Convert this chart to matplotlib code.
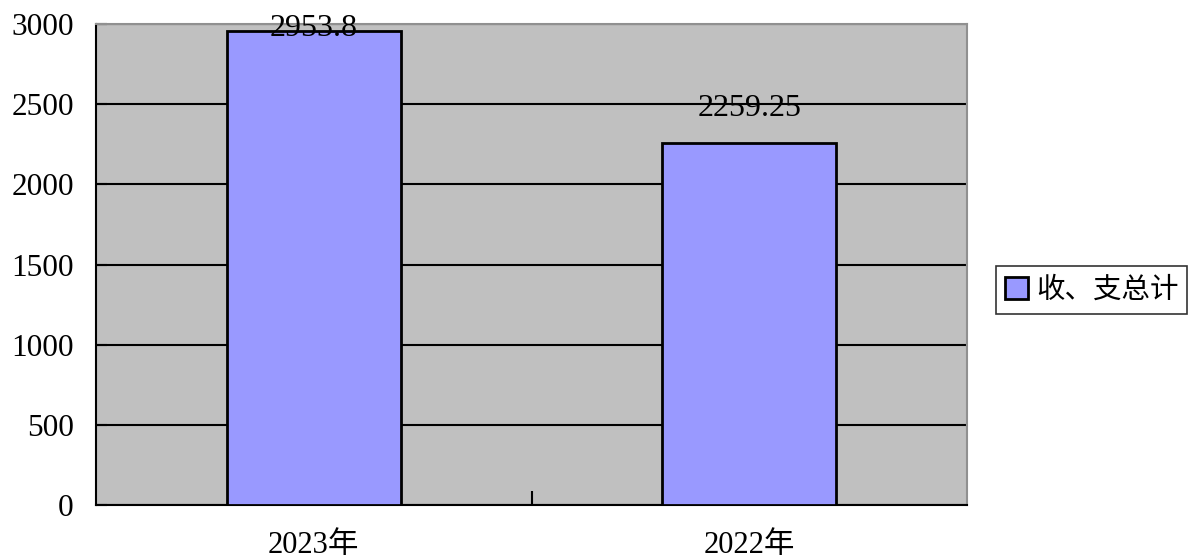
import numpy as np
import matplotlib.pyplot as plt

# data
categories = ['2023年', '2022年']
totals = [2953.8, 2259.25]
value_labels = ['2953.8', '2259.25']
series_name = '收、支总计'
y_ticks = [0, 500, 1000, 1500, 2000, 2500, 3000]

plt.rcParams['font.family'] = ['Liberation Serif', 'Noto Sans CJK SC', 'DejaVu Sans']

fig = plt.figure(figsize=(12.02, 5.59), dpi=100)
ax = fig.add_axes([96 / 1202, 1 - 505 / 559, (967 - 96) / 1202, (505 - 24) / 559])
ax.set_facecolor('#C0C0C0')

x = np.arange(len(categories)) + 0.5
bars = ax.bar(x, totals, width=0.4, color='#9999FF', edgecolor='black',
              linewidth=2, label=series_name, zorder=3)

ax.set_xlim(0, len(categories))
ax.set_ylim(0, 3000)
ax.set_yticks(y_ticks)
ax.set_yticklabels([str(t) for t in y_ticks], fontsize=22.5)
ax.yaxis.grid(True, color='black', linewidth=1.5, zorder=1)
ax.set_axisbelow(True)
ax.tick_params(axis='y', direction='in', length=8, width=1.5, pad=16)

# category labels centred, one tick between categories
ax.set_xticks(x)
ax.set_xticklabels(categories, fontsize=22)
ax.set_xticks(np.arange(1, len(categories)), minor=True)
ax.tick_params(axis='x', which='major', length=0, pad=19)
ax.tick_params(axis='x', which='minor', direction='in', length=10, width=1.5)

for side in ['top', 'right']:
    ax.spines[side].set_color('#909090')
    ax.spines[side].set_linewidth(1.5)
for side in ['left', 'bottom']:
    ax.spines[side].set_color('black')
    ax.spines[side].set_linewidth(1.5)

# value labels above bars, kept inside the plot area
for xi, v, txt in zip(x, totals, value_labels):
    ly = min(v + 215, 2969)
    ax.text(xi, ly, txt, ha='center', va='center', fontsize=23, zorder=4)

leg = fig.legend(loc='center left', bbox_to_anchor=(982 / 1202, 1 - 290 / 559),
                 prop={'family': ['Noto Sans CJK SC'], 'size': 20.5},
                 frameon=True, fancybox=False, edgecolor='black',
                 handlelength=0.8, handleheight=0.8, handletextpad=0.3,
                 borderpad=0.3)
leg.get_frame().set_linewidth(1.2)

fig.savefig('out.png', dpi=100)
